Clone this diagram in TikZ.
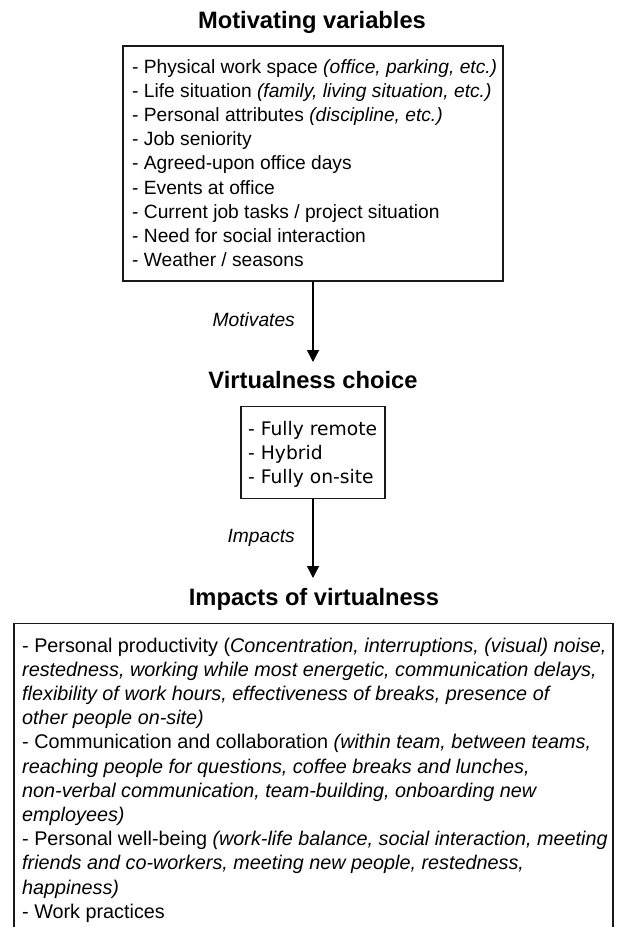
\documentclass[tikz,border=0pt]{standalone}
\usepackage{fontspec}
\setmainfont{Liberation Sans}
\newfontfamily\dejavu{DejaVu Sans}
\usetikzlibrary{arrows.meta}
\begin{document}
\begin{tikzpicture}[x=1pt,y=-1pt,
  frame/.style={draw=black!90, line width=1.4pt, inner sep=0pt, fill=none},
  heading/.style={inner sep=0pt, anchor=base, font=\fontsize{23.7}{28}\selectfont\bfseries},
  item/.style={inner sep=0pt, anchor=base west, font=\fontsize{19.2}{24}\selectfont},
  itemb/.style={inner sep=0pt, anchor=base west, font=\fontsize{19.8}{24}\selectfont},
  itemd/.style={inner sep=0pt, anchor=base west, font=\fontsize{18.7}{24}\dejavu},
  lab/.style={inner sep=0pt, anchor=base east, font=\fontsize{19.2}{24}\selectfont\itshape},
  arr/.style={line width=1.4pt, -{Triangle[length=12pt,width=12pt]}}]
\useasboundingbox (0,0) rectangle (618,927);
\clip (0,0) rectangle (618,927);
\fill[white] (0,0) rectangle (618,927);

% Motivating variables
\node[heading] (t1) at (312,28) {Motivating variables};
\node[frame, minimum width=380pt, minimum height=235pt] (mv) at (313,163.5) {};
\node[item] (m1) at (132,73.5) {- Physical work space \textit{(office, parking, etc.)}};
\node[item] (m2) at (132,97.6) {- Life situation \textit{(family, living situation, etc.)}};
\node[item] (m3) at (132,121.7) {- Personal attributes \textit{(discipline, etc.)}};
\node[item] (m4) at (132,145.8) {- Job seniority};
\node[item] (m5) at (132,169.9) {- Agreed-upon office days};
\node[item] (m6) at (132,194.0) {- Events at office};
\node[item] (m7) at (132,218.1) {- Current job tasks / project situation};
\node[item] (m8) at (132,242.2) {- Need for social interaction};
\node[item] (m9) at (132,266.3) {- Weather / seasons};

% arrow 1
\coordinate (tip1) at (313,362);
\draw[arr] (mv.south) -- (tip1);
\node[lab] (l1) at (295,326.5) {Motivates};

% Virtualness choice
\node[heading] (t2) at (313,388) {Virtualness choice};
\node[frame, minimum width=144pt, minimum height=92pt] (vc) at (313,452.5) {};
\node[itemd] (v1) at (248,435.5) {- Fully remote};
\node[itemd] (v2) at (248,459.5) {- Hybrid};
\node[itemd] (v3) at (248,483.5) {- Fully on-site};

% arrow 2
\coordinate (tip2) at (313,578);
\draw[arr] (vc.south) -- (tip2);
\node[lab] (l2) at (295,542.5) {Impacts};

% Impacts of virtualness
\node[heading] (t3) at (314,605) {Impacts of virtualness};
\node[frame, minimum width=599pt, minimum height=380pt] (iv) at (313.5,813.5) {};
\node[itemb] (i1) at (22,652) {- Personal productivity (\textit{Concentration, interruptions, (visual) noise,}};
\node[itemb] (i2) at (22,676.2) {\textit{restedness, working while most energetic, communication delays,}};
\node[itemb] (i3) at (22,700.4) {\textit{flexibility of work hours, effectiveness of breaks, presence of}};
\node[itemb] (i4) at (22,724.6) {\textit{other people on-site)}};
\node[itemb] (i5) at (22,748.8) {- Communication and collaboration \textit{(within team, between teams,}};
\node[itemb] (i6) at (22,773.0) {\textit{reaching people for questions, coffee breaks and lunches,}};
\node[itemb] (i7) at (22,797.2) {\textit{non-verbal communication, team-building, onboarding new}};
\node[itemb] (i8) at (22,821.4) {\textit{employees)}};
\node[itemb] (i9) at (22,845.6) {- Personal well-being \textit{(work-life balance, social interaction, meeting}};
\node[itemb] (i10) at (22,869.8) {\textit{friends and co-workers, meeting new people, restedness,}};
\node[itemb] (i11) at (22,894.0) {\textit{happiness)}};
\node[itemb] (i12) at (22,918.2) {- Work practices};
\end{tikzpicture}
\end{document}
